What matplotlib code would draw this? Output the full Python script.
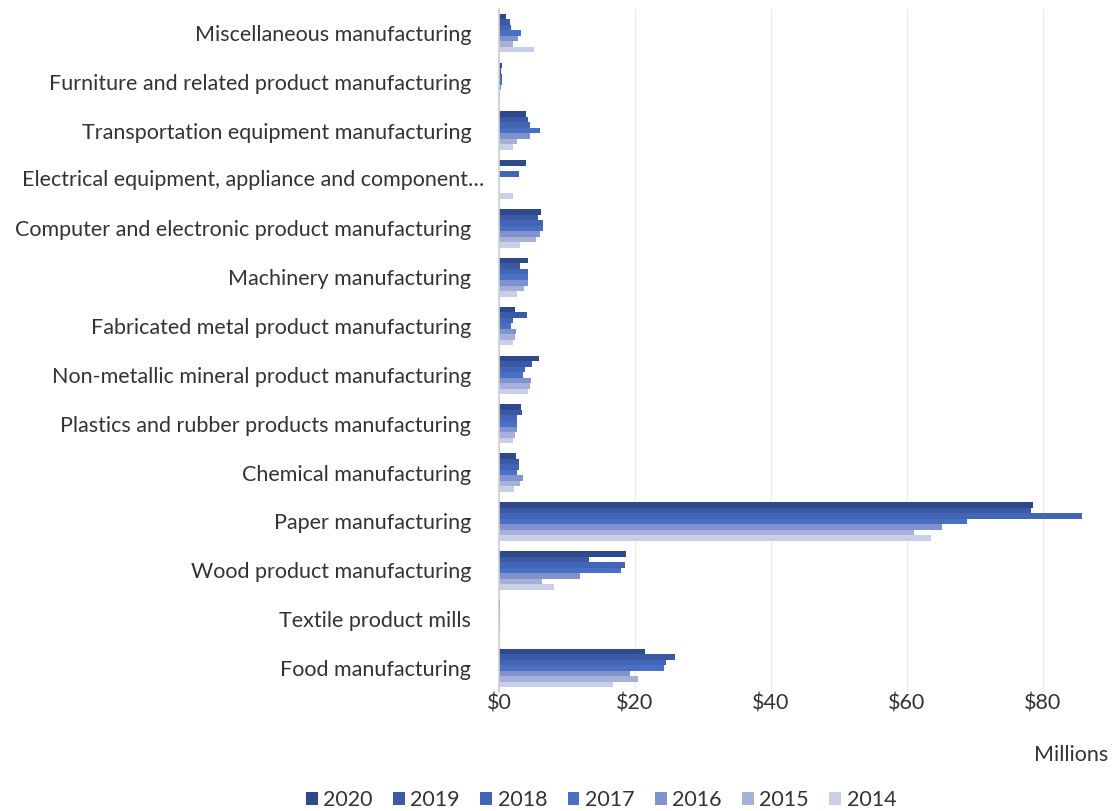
import matplotlib
matplotlib.use("Agg")
import matplotlib.pyplot as plt
import numpy as np

plt.rcParams['font.family'] = ['Lato', 'DejaVu Sans']

categories = [
    "Miscellaneous manufacturing",
    "Furniture and related product manufacturing",
    "Transportation equipment manufacturing",
    "Electrical equipment, appliance and component\u2026",
    "Computer and electronic product manufacturing",
    "Machinery manufacturing",
    "Fabricated metal product manufacturing",
    "Non-metallic mineral product manufacturing",
    "Plastics and rubber products manufacturing",
    "Chemical manufacturing",
    "Paper manufacturing",
    "Wood product manufacturing",
    "Textile product mills",
    "Food manufacturing",
]

years = ["2020", "2019", "2018", "2017", "2016", "2015", "2014"]

v2020 = [1.1, 0.4, 3.9, 4.0, 6.2, 4.2, 2.4, 5.9, 3.2, 2.5, 78.6, 18.7, 0.2, 21.5]
v2019 = [1.6, 0.3, 4.3, 0.0, 5.8, 3.1, 4.1, 4.8, 3.4, 2.9, 78.3, 13.3, 0.2, 25.9]
v2018 = [1.7, 0.5, 4.5, 2.9, 6.5, 4.3, 2.0, 3.8, 2.7, 2.9, 85.8, 18.5, 0.2, 24.6]
v2017 = [3.2, 0.4, 6.0, 0.0, 6.5, 4.3, 1.8, 3.6, 2.6, 2.7, 68.8, 17.9, 0.2, 24.2]
v2016 = [2.8, 0.3, 4.5, 0.0, 6.0, 4.2, 2.5, 4.7, 2.6, 3.6, 65.1, 11.9, 0.1, 19.2]
v2015 = [2.0, 0.2, 2.7, 0.0, 5.5, 3.7, 2.3, 4.6, 2.4, 3.1, 61.0, 6.3, 0.1, 20.4]
v2014 = [5.2, 0.2, 2.1, 2.0, 3.1, 2.7, 2.1, 4.2, 2.1, 2.2, 63.6, 8.1, 0.1, 16.8]

series = [v2020, v2019, v2018, v2017, v2016, v2015, v2014]
colors = ["#2e4a8a", "#3a5aa6", "#4265b6", "#4a70c6", "#8093cc", "#a6b1da", "#c9cfe9"]

xticks = [0, 20, 40, 60, 80]
xticklabels = ["$0", "$20", "$40", "$60", "$80"]

FS = 15.5
TXT = "#333333"

W, H = 1119, 811
fig = plt.figure(figsize=(W / 100, H / 100), dpi=100)
ax = fig.add_axes([499 / W, 1 - 692.4 / H, (1111 - 499) / W, (692.4 - 8.6) / H])

n = len(series)
y = np.arange(len(categories))
h = 0.79 / n
for j, (vals, c, yr) in enumerate(zip(series, colors, years)):
    ax.barh(y + (j - (n - 1) / 2) * h, vals, height=h, color=c, label=yr,
            zorder=3, linewidth=0)

ax.set_ylim(len(categories) - 0.5, -0.5)
ax.set_xlim(0, 90)
ax.set_xticks(xticks)
ax.set_xticklabels(xticklabels, fontsize=FS, color=TXT)
ax.set_yticks(y)
ax.set_yticklabels(categories, fontsize=FS, color=TXT)
ax.tick_params(axis='both', length=0)
ax.tick_params(axis='y', pad=20)
ax.tick_params(axis='x', pad=1)

# truncated label placed like the original (left aligned near figure edge)
lbls = ax.get_yticklabels()
lbls[3].set_visible(False)
fig.text(22 / W, 1 - 180 / H, categories[3], fontsize=FS, color=TXT,
         ha='left', va='center')

ax.grid(axis='x', color="#ececec", linewidth=1, zorder=0)
for s in ["top", "right", "bottom"]:
    ax.spines[s].set_visible(False)
ax.spines["left"].set_color("#d0d0d0")
ax.spines["left"].set_linewidth(1.2)
ax.spines["left"].set_zorder(4)

fig.text(1108 / W, 1 - 755 / H, "Millions", fontsize=FS, color=TXT,
         ha='right', va='center')

fig.legend(loc='center', bbox_to_anchor=(601 / W, 1 - 800 / H), ncol=7,
           frameon=False, fontsize=FS, handlelength=0.55, handleheight=0.55,
           handletextpad=0.25, columnspacing=0.95, labelcolor=TXT)

fig.savefig("out.png", dpi=100)
